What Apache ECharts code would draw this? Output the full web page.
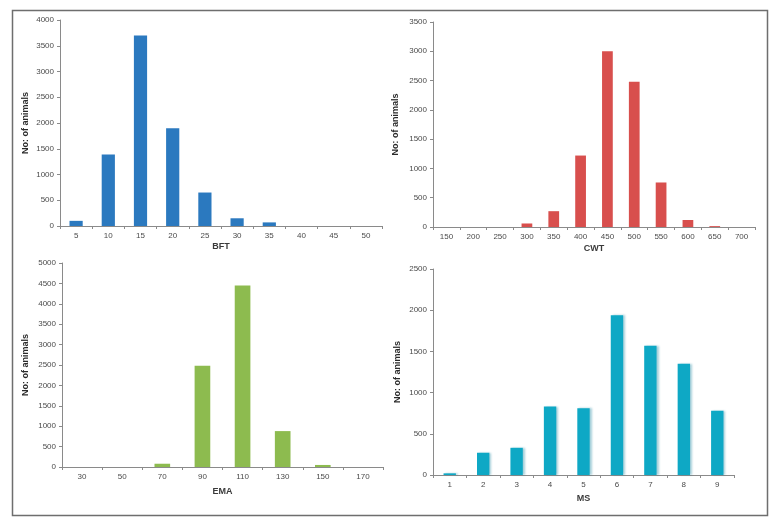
<!DOCTYPE html>
<html>
<head>
<meta charset="utf-8">
<script src="https://cdn.jsdelivr.net/npm/echarts@6/dist/echarts.min.js"></script>
<style>html,body{margin:0;padding:0;background:#fff}#c{width:776px;height:525px}</style>
</head>
<body>
<div id="c"></div>
<script>
// ---- data ----
const bftCats = ['5','10','15','20','25','30','35','40','45','50'];
const bftVals = [100,1390,3700,1900,650,150,70,0,0,0];
const cwtCats = ['150','200','250','300','350','400','450','500','550','600','650','700'];
const cwtVals = [0,0,0,60,270,1220,3000,2480,760,120,15,0];
const emaCats = ['30','50','70','90','110','130','150','170'];
const emaVals = [0,0,80,2480,4450,880,50,0];
const msCats = ['1','2','3','4','5','6','7','8','9'];
const msVals = [20,270,330,830,810,1940,1570,1350,780];
const yName = 'No: of animals';

const FONT = 'Liberation Sans';
const axisCol = '#8a8a8a';
const labelCol = '#4a4a4a';

const panels = [
  {cats: bftCats, vals: bftVals, name: 'BFT', color: '#2b79bf', max: 4000, interval: 500,
   grid: {left: 60, top: 20, width: 322, height: 206}, yGap: 30, xGap: 16, bw: '41%'},
  {cats: cwtCats, vals: cwtVals, name: 'CWT', color: '#d84f4d', max: 3500, interval: 500,
   grid: {left: 433, top: 22, width: 322, height: 205}, yGap: 33, xGap: 17, bw: '40%'},
  {cats: emaCats, vals: emaVals, name: 'EMA', color: '#8dbb4f', max: 5000, interval: 500,
   grid: {left: 62, top: 263, width: 321, height: 204}, yGap: 32, xGap: 20, bw: '39%'},
  {cats: msCats, vals: msVals, name: 'MS', color: '#0ea8c5', max: 2500, interval: 500,
   grid: {left: 433, top: 269, width: 301, height: 206}, yGap: 31, xGap: 19, bw: '37%', shadow: true}
];

const option = {
  animation: false,
  backgroundColor: '#fff',
  textStyle: {fontFamily: FONT},
  graphic: [{
    type: 'rect', shape: {x: 12.5, y: 10.5, width: 755, height: 505},
    style: {fill: 'none', stroke: '#6e6e6e', lineWidth: 1.5}, silent: true
  }],
  grid: panels.map(p => Object.assign({containLabel: false}, p.grid)),
  xAxis: panels.map((p, i) => ({
    type: 'category', gridIndex: i, data: p.cats,
    name: p.name, nameLocation: 'middle', nameGap: p.xGap,
    nameTextStyle: {fontFamily: FONT, fontSize: 9, fontWeight: 'bold', color: '#3a3a3a'},
    axisLine: {lineStyle: {color: axisCol, width: 1}},
    axisTick: {show: true, length: 3, lineStyle: {color: axisCol}},
    axisLabel: {fontFamily: FONT, fontSize: 8, color: labelCol, margin: 6},
    splitLine: {show: false}
  })),
  yAxis: panels.map((p, i) => ({
    type: 'value', gridIndex: i, min: 0, max: p.max, interval: p.interval,
    name: yName, nameLocation: 'middle', nameGap: p.yGap, nameRotate: 90,
    nameTextStyle: {fontFamily: FONT, fontSize: 9, fontWeight: 'bold', color: '#2a2a2a'},
    axisLine: {show: true, lineStyle: {color: axisCol, width: 1}},
    axisTick: {show: true, length: 3, lineStyle: {color: axisCol}},
    axisLabel: {fontFamily: FONT, fontSize: 8, color: labelCol, margin: 6,
      formatter: v => String(v)},
    splitLine: {show: false}
  })),
  series: panels.map((p, i) => ({
    type: 'bar', xAxisIndex: i, yAxisIndex: i, data: p.vals,
    barWidth: p.bw,
    itemStyle: Object.assign({color: p.color},
      p.shadow ? {shadowColor: 'rgba(0,120,150,0.35)', shadowOffsetX: 2, shadowOffsetY: 0, shadowBlur: 2} : {})
  }))
};

const chart = echarts.init(document.getElementById('c'), null, {renderer: 'canvas'});
chart.setOption(option);
</script>
</body>
</html>
